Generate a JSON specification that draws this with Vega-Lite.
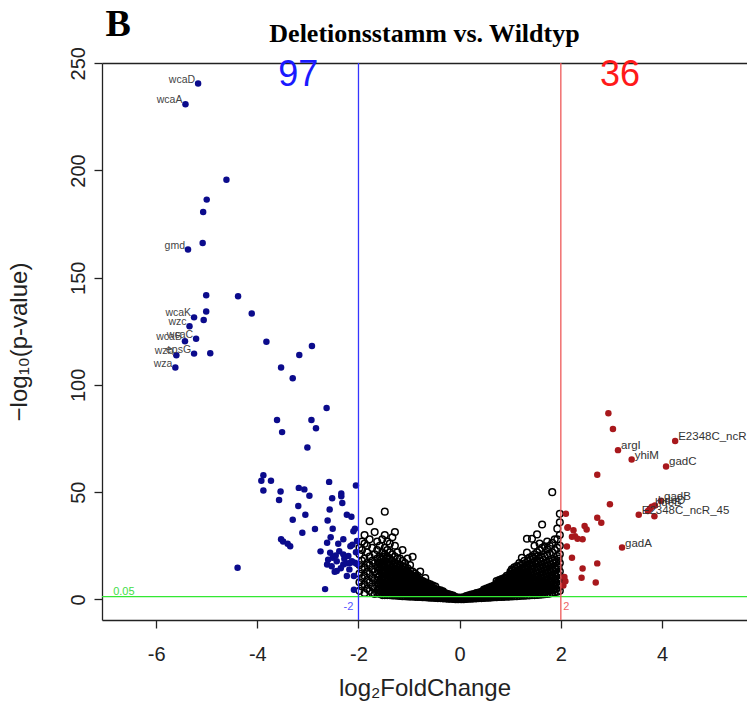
{
"$schema":"https://vega.github.io/schema/vega-lite/v6.json",
"width":645,"height":557,
"autosize":"none",
"padding":{"left":102,"top":63,"right":0,"bottom":89},
"background":"white",
"config":{"view":{"stroke":null},"font":"Liberation Sans","axis":{"domainColor":"#222","tickColor":"#222","labelColor":"#222","titleColor":"#222","grid":false,"domainWidth":1.3,"tickWidth":1.3}},
"title":{"text":"Deletionsstamm vs. Wildtyp","font":"Liberation Serif","fontWeight":"bold","fontSize":26,"color":"black","anchor":"middle","offset":17,"baseline":"alphabetic","dy":79,"frame":"group"},
"resolve":{"axis":{"x":"independent"}},
"datasets":{
"ns":[
{"x":-1.98,"y":4},{"x":-1.98,"y":8},{"x":-1.98,"y":12},{"x":-1.98,"y":16},{"x":-1.98,"y":21},{"x":-1.98,"y":24},
{"x":-1.93,"y":6},{"x":-1.93,"y":10},{"x":-1.93,"y":14},{"x":-1.93,"y":18},{"x":-1.93,"y":23},{"x":-1.93,"y":27},
{"x":-1.88,"y":3},{"x":-1.88,"y":7},{"x":-1.88,"y":11},{"x":-1.88,"y":15},{"x":-1.88,"y":19},{"x":-1.88,"y":26},{"x":-1.88,"y":30},
{"x":-1.83,"y":5},{"x":-1.83,"y":9},{"x":-1.83,"y":13},{"x":-1.83,"y":17},{"x":-1.83,"y":22},{"x":-1.83,"y":25},
{"x":-1.78,"y":4},{"x":-1.78,"y":8},{"x":-1.78,"y":12},{"x":-1.78,"y":16},{"x":-1.78,"y":20},{"x":-1.78,"y":28},{"x":-1.78,"y":36.5},
{"x":-1.73,"y":3},{"x":-1.73,"y":6},{"x":-1.73,"y":10},{"x":-1.73,"y":14},{"x":-1.73,"y":18},{"x":-1.73,"y":24},
{"x":-1.68,"y":2.5},{"x":-1.68,"y":5},{"x":-1.68,"y":9},{"x":-1.68,"y":13},{"x":-1.68,"y":17},{"x":-1.68,"y":21},{"x":-1.68,"y":31.4},
{"x":-1.63,"y":3},{"x":-1.63,"y":6},{"x":-1.63,"y":9},{"x":-1.63,"y":12},{"x":-1.63,"y":15},{"x":-1.63,"y":19},{"x":-1.63,"y":23},{"x":-1.63,"y":27},
{"x":-1.58,"y":2.5},{"x":-1.58,"y":5},{"x":-1.58,"y":8},{"x":-1.58,"y":11},{"x":-1.58,"y":14},{"x":-1.58,"y":17},{"x":-1.58,"y":20},{"x":-1.58,"y":25},
{"x":-1.53,"y":2},{"x":-1.53,"y":4.5},{"x":-1.53,"y":7},{"x":-1.53,"y":10},{"x":-1.53,"y":13},{"x":-1.53,"y":16},{"x":-1.53,"y":19},{"x":-1.53,"y":22},{"x":-1.53,"y":28},
{"x":-1.48,"y":2},{"x":-1.48,"y":4},{"x":-1.48,"y":6.5},{"x":-1.48,"y":9},{"x":-1.48,"y":12},{"x":-1.48,"y":15},{"x":-1.48,"y":18},{"x":-1.48,"y":21},{"x":-1.48,"y":24},{"x":-1.48,"y":30},{"x":-1.48,"y":40.9},
{"x":-1.43,"y":2},{"x":-1.43,"y":4},{"x":-1.43,"y":6},{"x":-1.43,"y":8.5},{"x":-1.43,"y":11},{"x":-1.43,"y":14},{"x":-1.43,"y":17},{"x":-1.43,"y":20},{"x":-1.43,"y":23},{"x":-1.43,"y":27},
{"x":-1.38,"y":2},{"x":-1.38,"y":4},{"x":-1.38,"y":6},{"x":-1.38,"y":8},{"x":-1.38,"y":10.5},{"x":-1.38,"y":13},{"x":-1.38,"y":16},{"x":-1.38,"y":19},{"x":-1.38,"y":22},{"x":-1.38,"y":26},
{"x":-1.33,"y":1.8},{"x":-1.33,"y":3.5},{"x":-1.33,"y":5.5},{"x":-1.33,"y":7.5},{"x":-1.33,"y":10},{"x":-1.33,"y":12.5},{"x":-1.33,"y":15},{"x":-1.33,"y":18},{"x":-1.33,"y":21},{"x":-1.33,"y":29},
{"x":-1.28,"y":1.8},{"x":-1.28,"y":3.5},{"x":-1.28,"y":5.5},{"x":-1.28,"y":7.5},{"x":-1.28,"y":9.5},{"x":-1.28,"y":12},{"x":-1.28,"y":14.5},{"x":-1.28,"y":17},{"x":-1.28,"y":20},{"x":-1.28,"y":25},{"x":-1.28,"y":31.4},
{"x":-1.23,"y":1.7},{"x":-1.23,"y":3.3},{"x":-1.23,"y":5},{"x":-1.23,"y":7},{"x":-1.23,"y":9},{"x":-1.23,"y":11.5},{"x":-1.23,"y":14},{"x":-1.23,"y":16.5},{"x":-1.23,"y":19},{"x":-1.23,"y":22},
{"x":-1.18,"y":1.6},{"x":-1.18,"y":3.2},{"x":-1.18,"y":5},{"x":-1.18,"y":6.8},{"x":-1.18,"y":8.8},{"x":-1.18,"y":11},{"x":-1.18,"y":13.5},{"x":-1.18,"y":16},{"x":-1.18,"y":19},
{"x":-1.13,"y":1.5},{"x":-1.13,"y":3},{"x":-1.13,"y":4.7},{"x":-1.13,"y":6.5},{"x":-1.13,"y":8.5},{"x":-1.13,"y":10.5},{"x":-1.13,"y":13},{"x":-1.13,"y":15.5},{"x":-1.13,"y":18},{"x":-1.13,"y":23},
{"x":-1.08,"y":1.5},{"x":-1.08,"y":3},{"x":-1.08,"y":4.5},{"x":-1.08,"y":6},{"x":-1.08,"y":8},{"x":-1.08,"y":10},{"x":-1.08,"y":12.5},{"x":-1.08,"y":15},{"x":-1.08,"y":17},
{"x":-1.03,"y":1.4},{"x":-1.03,"y":2.8},{"x":-1.03,"y":4.2},{"x":-1.03,"y":5.8},{"x":-1.03,"y":7.5},{"x":-1.03,"y":9.5},{"x":-1.03,"y":12},{"x":-1.03,"y":14.5},{"x":-1.03,"y":19},
{"x":-0.98,"y":1.3},{"x":-0.98,"y":2.7},{"x":-0.98,"y":4},{"x":-0.98,"y":5.5},{"x":-0.98,"y":7.2},{"x":-0.98,"y":9},{"x":-0.98,"y":11},{"x":-0.98,"y":13.5},{"x":-0.98,"y":16},
{"x":-0.93,"y":1.3},{"x":-0.93,"y":2.5},{"x":-0.93,"y":3.8},{"x":-0.93,"y":5.2},{"x":-0.93,"y":6.8},{"x":-0.93,"y":8.5},{"x":-0.93,"y":10.5},{"x":-0.93,"y":13},{"x":-0.93,"y":19.9},
{"x":-0.88,"y":1.2},{"x":-0.88,"y":2.4},{"x":-0.88,"y":3.6},{"x":-0.88,"y":5},{"x":-0.88,"y":6.5},{"x":-0.88,"y":8},{"x":-0.88,"y":10},{"x":-0.88,"y":12},
{"x":-0.83,"y":1.1},{"x":-0.83,"y":2.3},{"x":-0.83,"y":3.5},{"x":-0.83,"y":4.8},{"x":-0.83,"y":6.2},{"x":-0.83,"y":7.7},{"x":-0.83,"y":9.5},{"x":-0.83,"y":11},
{"x":-0.78,"y":1.1},{"x":-0.78,"y":2.2},{"x":-0.78,"y":3.3},{"x":-0.78,"y":4.5},{"x":-0.78,"y":5.8},{"x":-0.78,"y":7.2},{"x":-0.78,"y":9},{"x":-0.78,"y":13},
{"x":-0.73,"y":1},{"x":-0.73,"y":2},{"x":-0.73,"y":3.1},{"x":-0.73,"y":4.2},{"x":-0.73,"y":5.5},{"x":-0.73,"y":6.8},{"x":-0.73,"y":8.5},
{"x":-0.68,"y":1},{"x":-0.68,"y":1.9},{"x":-0.68,"y":2.9},{"x":-0.68,"y":4},{"x":-0.68,"y":5.2},{"x":-0.68,"y":6.5},{"x":-0.68,"y":8},{"x":-0.68,"y":10},
{"x":-0.63,"y":0.9},{"x":-0.63,"y":1.8},{"x":-0.63,"y":2.7},{"x":-0.63,"y":3.7},{"x":-0.63,"y":4.8},{"x":-0.63,"y":6},{"x":-0.63,"y":7.5},
{"x":-0.58,"y":0.8},{"x":-0.58,"y":1.7},{"x":-0.58,"y":2.5},{"x":-0.58,"y":3.4},{"x":-0.58,"y":4.5},{"x":-0.58,"y":5.6},{"x":-0.58,"y":7},
{"x":-0.53,"y":0.8},{"x":-0.53,"y":1.6},{"x":-0.53,"y":2.4},{"x":-0.53,"y":3.2},{"x":-0.53,"y":4.2},{"x":-0.53,"y":5.2},{"x":-0.53,"y":6.5},
{"x":-0.48,"y":0.7},{"x":-0.48,"y":1.5},{"x":-0.48,"y":2.2},{"x":-0.48,"y":3},{"x":-0.48,"y":3.9},{"x":-0.48,"y":4.8},{"x":-0.48,"y":6},
{"x":-0.43,"y":0.6},{"x":-0.43,"y":1.3},{"x":-0.43,"y":2},{"x":-0.43,"y":2.8},{"x":-0.43,"y":3.6},{"x":-0.43,"y":4.5},
{"x":-0.38,"y":0.6},{"x":-0.38,"y":1.2},{"x":-0.38,"y":1.9},{"x":-0.38,"y":2.6},{"x":-0.38,"y":3.3},{"x":-0.38,"y":4.2},
{"x":-0.33,"y":0.5},{"x":-0.33,"y":1.1},{"x":-0.33,"y":1.7},{"x":-0.33,"y":2.3},{"x":-0.33,"y":3},{"x":-0.33,"y":3.8},
{"x":-0.28,"y":0.4},{"x":-0.28,"y":1},{"x":-0.28,"y":1.5},{"x":-0.28,"y":2.1},{"x":-0.28,"y":2.8},
{"x":-0.23,"y":0.3},{"x":-0.23,"y":0.8},{"x":-0.23,"y":1.3},{"x":-0.23,"y":1.9},{"x":-0.23,"y":2.5},
{"x":-0.18,"y":0.3},{"x":-0.18,"y":0.7},{"x":-0.18,"y":1.1},{"x":-0.18,"y":1.6},{"x":-0.18,"y":2.1},
{"x":-0.13,"y":0.2},{"x":-0.13,"y":0.5},{"x":-0.13,"y":0.9},{"x":-0.13,"y":1.3},{"x":-0.13,"y":1.8},
{"x":-0.08,"y":0.1},{"x":-0.08,"y":0.4},{"x":-0.08,"y":0.7},{"x":-0.08,"y":1.1},
{"x":-0.03,"y":0.05},{"x":-0.03,"y":0.3},{"x":-0.03,"y":0.6},{"x":-0.03,"y":0.9},
{"x":0.03,"y":0.05},{"x":0.03,"y":0.3},{"x":0.03,"y":0.6},{"x":0.03,"y":0.9},
{"x":0.08,"y":0.1},{"x":0.08,"y":0.4},{"x":0.08,"y":0.7},{"x":0.08,"y":1.0},
{"x":0.13,"y":0.2},{"x":0.13,"y":0.5},{"x":0.13,"y":0.8},{"x":0.13,"y":1.2},{"x":0.13,"y":1.6},
{"x":0.18,"y":0.3},{"x":0.18,"y":0.6},{"x":0.18,"y":1.0},{"x":0.18,"y":1.4},{"x":0.18,"y":1.9},
{"x":0.23,"y":0.3},{"x":0.23,"y":0.7},{"x":0.23,"y":1.1},{"x":0.23,"y":1.6},{"x":0.23,"y":2.2},
{"x":0.28,"y":0.4},{"x":0.28,"y":0.9},{"x":0.28,"y":1.4},{"x":0.28,"y":1.9},{"x":0.28,"y":2.5},
{"x":0.33,"y":0.5},{"x":0.33,"y":1},{"x":0.33,"y":1.6},{"x":0.33,"y":2.2},{"x":0.33,"y":2.9},
{"x":0.38,"y":0.6},{"x":0.38,"y":1.1},{"x":0.38,"y":1.7},{"x":0.38,"y":2.4},{"x":0.38,"y":3.2},
{"x":0.43,"y":0.6},{"x":0.43,"y":1.2},{"x":0.43,"y":1.9},{"x":0.43,"y":2.6},{"x":0.43,"y":3.5},
{"x":0.48,"y":0.7},{"x":0.48,"y":1.4},{"x":0.48,"y":2.1},{"x":0.48,"y":2.9},{"x":0.48,"y":3.8},{"x":0.48,"y":4.6},
{"x":0.53,"y":0.8},{"x":0.53,"y":1.5},{"x":0.53,"y":2.3},{"x":0.53,"y":3.1},{"x":0.53,"y":4.1},{"x":0.53,"y":5},
{"x":0.58,"y":0.8},{"x":0.58,"y":1.6},{"x":0.58,"y":2.5},{"x":0.58,"y":3.4},{"x":0.58,"y":4.4},{"x":0.58,"y":5.5},
{"x":0.63,"y":0.9},{"x":0.63,"y":1.8},{"x":0.63,"y":2.7},{"x":0.63,"y":3.7},{"x":0.63,"y":4.8},{"x":0.63,"y":6},
{"x":0.68,"y":1},{"x":0.68,"y":1.9},{"x":0.68,"y":2.9},{"x":0.68,"y":4},{"x":0.68,"y":5.2},{"x":0.68,"y":6.5},
{"x":0.73,"y":1},{"x":0.73,"y":2},{"x":0.73,"y":3.1},{"x":0.73,"y":4.3},{"x":0.73,"y":5.6},{"x":0.73,"y":7},{"x":0.73,"y":8.5},
{"x":0.78,"y":1.1},{"x":0.78,"y":2.2},{"x":0.78,"y":3.3},{"x":0.78,"y":4.6},{"x":0.78,"y":6},{"x":0.78,"y":7.5},{"x":0.78,"y":9},
{"x":0.83,"y":1.1},{"x":0.83,"y":2.3},{"x":0.83,"y":3.5},{"x":0.83,"y":4.9},{"x":0.83,"y":6.4},{"x":0.83,"y":8},{"x":0.83,"y":9.5},
{"x":0.88,"y":1.2},{"x":0.88,"y":2.4},{"x":0.88,"y":3.7},{"x":0.88,"y":5.2},{"x":0.88,"y":6.8},{"x":0.88,"y":8.5},{"x":0.88,"y":10},
{"x":0.93,"y":1.3},{"x":0.93,"y":2.6},{"x":0.93,"y":4},{"x":0.93,"y":5.5},{"x":0.93,"y":7.2},{"x":0.93,"y":9},{"x":0.93,"y":11},
{"x":0.98,"y":1.3},{"x":0.98,"y":2.7},{"x":0.98,"y":4.2},{"x":0.98,"y":5.8},{"x":0.98,"y":7.6},{"x":0.98,"y":9.5},{"x":0.98,"y":11.5},
{"x":1.03,"y":1.4},{"x":1.03,"y":2.8},{"x":1.03,"y":4.4},{"x":1.03,"y":6.1},{"x":1.03,"y":8},{"x":1.03,"y":10},{"x":1.03,"y":12},{"x":1.03,"y":14},
{"x":1.08,"y":1.5},{"x":1.08,"y":3},{"x":1.08,"y":4.6},{"x":1.08,"y":6.4},{"x":1.08,"y":8.4},{"x":1.08,"y":10.5},{"x":1.08,"y":12.5},{"x":1.08,"y":15},
{"x":1.13,"y":1.5},{"x":1.13,"y":3.1},{"x":1.13,"y":4.8},{"x":1.13,"y":6.7},{"x":1.13,"y":8.8},{"x":1.13,"y":11},{"x":1.13,"y":13},{"x":1.13,"y":15.5},
{"x":1.18,"y":1.6},{"x":1.18,"y":3.2},{"x":1.18,"y":5},{"x":1.18,"y":7},{"x":1.18,"y":9.2},{"x":1.18,"y":11.5},{"x":1.18,"y":13.8},{"x":1.18,"y":17},
{"x":1.23,"y":1.7},{"x":1.23,"y":3.4},{"x":1.23,"y":5.2},{"x":1.23,"y":7.3},{"x":1.23,"y":9.6},{"x":1.23,"y":12},{"x":1.23,"y":14.5},{"x":1.23,"y":19.4},
{"x":1.28,"y":1.7},{"x":1.28,"y":3.5},{"x":1.28,"y":5.4},{"x":1.28,"y":7.6},{"x":1.28,"y":10},{"x":1.28,"y":12.5},{"x":1.28,"y":15},{"x":1.28,"y":18},
{"x":1.33,"y":1.8},{"x":1.33,"y":3.6},{"x":1.33,"y":5.6},{"x":1.33,"y":7.9},{"x":1.33,"y":10.4},{"x":1.33,"y":13},{"x":1.33,"y":16},{"x":1.33,"y":21.8},{"x":1.33,"y":28.3},
{"x":1.38,"y":1.9},{"x":1.38,"y":3.8},{"x":1.38,"y":5.8},{"x":1.38,"y":8.2},{"x":1.38,"y":10.8},{"x":1.38,"y":13.5},{"x":1.38,"y":16.5},{"x":1.38,"y":19.5},
{"x":1.43,"y":2},{"x":1.43,"y":4},{"x":1.43,"y":6},{"x":1.43,"y":8.5},{"x":1.43,"y":11.2},{"x":1.43,"y":14},{"x":1.43,"y":17},{"x":1.43,"y":20},{"x":1.43,"y":28.3},
{"x":1.48,"y":2},{"x":1.48,"y":4.1},{"x":1.48,"y":6.3},{"x":1.48,"y":8.8},{"x":1.48,"y":11.6},{"x":1.48,"y":14.5},{"x":1.48,"y":17.5},{"x":1.48,"y":21},{"x":1.48,"y":25},
{"x":1.53,"y":2.1},{"x":1.53,"y":4.2},{"x":1.53,"y":6.5},{"x":1.53,"y":9.1},{"x":1.53,"y":12},{"x":1.53,"y":15},{"x":1.53,"y":18},{"x":1.53,"y":22},{"x":1.53,"y":30.3},
{"x":1.58,"y":2.2},{"x":1.58,"y":4.4},{"x":1.58,"y":6.8},{"x":1.58,"y":9.4},{"x":1.58,"y":12.4},{"x":1.58,"y":15.5},{"x":1.58,"y":19},{"x":1.58,"y":23},{"x":1.58,"y":26},
{"x":1.63,"y":2.3},{"x":1.63,"y":4.6},{"x":1.63,"y":7},{"x":1.63,"y":9.7},{"x":1.63,"y":12.8},{"x":1.63,"y":16},{"x":1.63,"y":19.5},{"x":1.63,"y":24},{"x":1.63,"y":34.9},
{"x":1.68,"y":2.4},{"x":1.68,"y":4.8},{"x":1.68,"y":7.3},{"x":1.68,"y":10},{"x":1.68,"y":13.2},{"x":1.68,"y":16.5},{"x":1.68,"y":20},{"x":1.68,"y":24.8},
{"x":1.73,"y":2.5},{"x":1.73,"y":5},{"x":1.73,"y":7.6},{"x":1.73,"y":10.4},{"x":1.73,"y":13.6},{"x":1.73,"y":17},{"x":1.73,"y":21},{"x":1.73,"y":23.3},{"x":1.73,"y":27},
{"x":1.78,"y":2.7},{"x":1.78,"y":5.3},{"x":1.78,"y":8},{"x":1.78,"y":10.8},{"x":1.78,"y":14},{"x":1.78,"y":17.5},{"x":1.78,"y":21.5},{"x":1.78,"y":25},
{"x":1.83,"y":3},{"x":1.83,"y":5.6},{"x":1.83,"y":8.4},{"x":1.83,"y":11.2},{"x":1.83,"y":14.5},{"x":1.83,"y":18},{"x":1.83,"y":22},{"x":1.83,"y":26.4},{"x":1.83,"y":50},
{"x":1.88,"y":3.3},{"x":1.88,"y":6},{"x":1.88,"y":8.8},{"x":1.88,"y":11.6},{"x":1.88,"y":15},{"x":1.88,"y":18.5},{"x":1.88,"y":23},{"x":1.88,"y":28},
{"x":1.93,"y":3.6},{"x":1.93,"y":6.4},{"x":1.93,"y":9.2},{"x":1.93,"y":12},{"x":1.93,"y":15.5},{"x":1.93,"y":20.2},{"x":1.93,"y":24},{"x":1.93,"y":28},{"x":1.93,"y":33},
{"x":1.98,"y":4},{"x":1.98,"y":7},{"x":1.98,"y":10},{"x":1.98,"y":13},{"x":1.98,"y":17},{"x":1.98,"y":21},{"x":1.98,"y":25},{"x":1.98,"y":30},{"x":1.98,"y":36},{"x":1.98,"y":39.9},
{"x":-1.605,"y":4.5},{"x":-1.605,"y":7.5},{"x":-1.605,"y":10.5},{"x":-1.605,"y":13.5},{"x":-1.605,"y":17},
{"x":-1.555,"y":3.7},{"x":-1.555,"y":6.5},{"x":-1.555,"y":9.5},{"x":-1.555,"y":12.5},{"x":-1.555,"y":15.5},{"x":-1.555,"y":18.5},
{"x":-1.505,"y":3},{"x":-1.505,"y":5.5},{"x":-1.505,"y":8},{"x":-1.505,"y":11},{"x":-1.505,"y":14},{"x":-1.505,"y":17},{"x":-1.505,"y":20},
{"x":-1.455,"y":3},{"x":-1.455,"y":5},{"x":-1.455,"y":7.3},{"x":-1.455,"y":10},{"x":-1.455,"y":13},{"x":-1.455,"y":16},{"x":-1.455,"y":19},
{"x":-1.405,"y":3},{"x":-1.405,"y":5},{"x":-1.405,"y":7},{"x":-1.405,"y":9.3},{"x":-1.405,"y":12},{"x":-1.405,"y":14.5},{"x":-1.405,"y":17.5},
{"x":-1.355,"y":2.7},{"x":-1.355,"y":4.5},{"x":-1.355,"y":6.5},{"x":-1.355,"y":8.8},{"x":-1.355,"y":11.3},{"x":-1.355,"y":14},{"x":-1.355,"y":16.5},
{"x":-1.305,"y":2.6},{"x":-1.305,"y":4.5},{"x":-1.305,"y":6.5},{"x":-1.305,"y":8.5},{"x":-1.305,"y":11},{"x":-1.305,"y":13.3},{"x":-1.305,"y":16},
{"x":-1.255,"y":2.5},{"x":-1.255,"y":4.2},{"x":-1.255,"y":6},{"x":-1.255,"y":8.2},{"x":-1.255,"y":10.3},{"x":-1.255,"y":12.8},{"x":-1.255,"y":15.3},
{"x":-1.205,"y":2.4},{"x":-1.205,"y":4.1},{"x":-1.205,"y":5.9},{"x":-1.205,"y":7.9},{"x":-1.205,"y":10},{"x":-1.205,"y":12.3},{"x":-1.205,"y":14.7},
{"x":-1.155,"y":2.3},{"x":-1.155,"y":3.9},{"x":-1.155,"y":5.6},{"x":-1.155,"y":7.5},{"x":-1.155,"y":9.5},{"x":-1.155,"y":11.8},{"x":-1.155,"y":14.2},
{"x":-1.105,"y":2.2},{"x":-1.105,"y":3.8},{"x":-1.105,"y":5.3},{"x":-1.105,"y":7.2},{"x":-1.105,"y":9},{"x":-1.105,"y":11.2},{"x":-1.105,"y":13.7},
{"x":-1.055,"y":2.1},{"x":-1.055,"y":3.5},{"x":-1.055,"y":5},{"x":-1.055,"y":6.8},{"x":-1.055,"y":8.7},{"x":-1.055,"y":10.8},{"x":-1.055,"y":13},
{"x":-1.005,"y":2},{"x":-1.005,"y":3.4},{"x":-1.005,"y":4.8},{"x":-1.005,"y":6.3},{"x":-1.005,"y":8.2},{"x":-1.005,"y":10.2},{"x":-1.005,"y":12.3},
{"x":-0.955,"y":1.9},{"x":-0.955,"y":3.1},{"x":-0.955,"y":4.5},{"x":-0.955,"y":6},{"x":-0.955,"y":7.7},{"x":-0.955,"y":9.5},{"x":-0.955,"y":11.5},
{"x":-0.905,"y":1.8},{"x":-0.905,"y":3},{"x":-0.905,"y":4.3},{"x":-0.905,"y":5.8},{"x":-0.905,"y":7.3},{"x":-0.905,"y":9},{"x":-0.905,"y":11},
{"x":-0.855,"y":1.7},{"x":-0.855,"y":2.9},{"x":-0.855,"y":4.1},{"x":-0.855,"y":5.5},{"x":-0.855,"y":7},{"x":-0.855,"y":8.6},{"x":-0.855,"y":10.3},
{"x":-0.805,"y":1.6},{"x":-0.805,"y":2.8},{"x":-0.805,"y":3.9},{"x":-0.805,"y":5.2},{"x":-0.805,"y":6.6},{"x":-0.805,"y":8.2},
{"x":-0.755,"y":1.5},{"x":-0.755,"y":2.6},{"x":-0.755,"y":3.7},{"x":-0.755,"y":4.9},{"x":-0.755,"y":6.3},{"x":-0.755,"y":7.8},
{"x":-0.705,"y":1.4},{"x":-0.705,"y":2.5},{"x":-0.705,"y":3.5},{"x":-0.705,"y":4.6},{"x":-0.705,"y":6},{"x":-0.705,"y":7.3},
{"x":-0.655,"y":1.4},{"x":-0.655,"y":2.3},{"x":-0.655,"y":3.2},{"x":-0.655,"y":4.3},{"x":-0.655,"y":5.5},{"x":-0.655,"y":6.8},
{"x":-0.605,"y":1.3},{"x":-0.605,"y":2.1},{"x":-0.605,"y":3},{"x":-0.605,"y":4},{"x":-0.605,"y":5.1},{"x":-0.605,"y":6.3},
{"x":-0.555,"y":1.2},{"x":-0.555,"y":2},{"x":-0.555,"y":2.9},{"x":-0.555,"y":3.8},{"x":-0.555,"y":4.8},{"x":-0.555,"y":5.9},
{"x":-0.505,"y":1.1},{"x":-0.505,"y":1.9},{"x":-0.505,"y":2.7},{"x":-0.505,"y":3.6},{"x":-0.505,"y":4.6},
{"x":-0.455,"y":1},{"x":-0.455,"y":1.8},{"x":-0.455,"y":2.5},{"x":-0.455,"y":3.3},{"x":-0.455,"y":4.2},
{"x":-0.405,"y":0.9},{"x":-0.405,"y":1.6},{"x":-0.405,"y":2.3},{"x":-0.405,"y":3},{"x":-0.405,"y":3.8},
{"x":-0.355,"y":0.8},{"x":-0.355,"y":1.4},{"x":-0.355,"y":2},{"x":-0.355,"y":2.7},{"x":-0.355,"y":3.4},
{"x":-0.305,"y":0.7},{"x":-0.305,"y":1.3},{"x":-0.305,"y":1.8},{"x":-0.305,"y":2.5},
{"x":-0.255,"y":0.6},{"x":-0.255,"y":1.1},{"x":-0.255,"y":1.6},{"x":-0.255,"y":2.2},
{"x":-0.205,"y":0.5},{"x":-0.205,"y":0.9},{"x":-0.205,"y":1.4},{"x":-0.205,"y":1.9},
{"x":0.505,"y":1.1},{"x":0.505,"y":1.8},{"x":0.505,"y":2.6},{"x":0.505,"y":3.4},{"x":0.505,"y":4.3},
{"x":0.555,"y":1.2},{"x":0.555,"y":2},{"x":0.555,"y":2.8},{"x":0.555,"y":3.8},{"x":0.555,"y":4.8},
{"x":0.605,"y":1.3},{"x":0.605,"y":2.2},{"x":0.605,"y":3.1},{"x":0.605,"y":4.1},{"x":0.605,"y":5.2},
{"x":0.655,"y":1.4},{"x":0.655,"y":2.4},{"x":0.655,"y":3.4},{"x":0.655,"y":4.5},{"x":0.655,"y":5.7},
{"x":0.705,"y":1.5},{"x":0.705,"y":2.5},{"x":0.705,"y":3.6},{"x":0.705,"y":4.8},{"x":0.705,"y":6.1},
{"x":0.755,"y":1.6},{"x":0.755,"y":2.7},{"x":0.755,"y":3.9},{"x":0.755,"y":5.2},{"x":0.755,"y":6.6},{"x":0.755,"y":8},
{"x":0.805,"y":1.7},{"x":0.805,"y":2.8},{"x":0.805,"y":4.1},{"x":0.805,"y":5.5},{"x":0.805,"y":7},{"x":0.805,"y":8.5},
{"x":0.855,"y":1.8},{"x":0.855,"y":3},{"x":0.855,"y":4.3},{"x":0.855,"y":5.8},{"x":0.855,"y":7.4},{"x":0.855,"y":9},
{"x":0.905,"y":1.9},{"x":0.905,"y":3.2},{"x":0.905,"y":4.6},{"x":0.905,"y":6.2},{"x":0.905,"y":7.9},{"x":0.905,"y":9.8},
{"x":0.955,"y":2},{"x":0.955,"y":3.4},{"x":0.955,"y":4.9},{"x":0.955,"y":6.5},{"x":0.955,"y":8.3},{"x":0.955,"y":10.3},
{"x":1.005,"y":2.1},{"x":1.005,"y":3.6},{"x":1.005,"y":5.2},{"x":1.005,"y":6.9},{"x":1.005,"y":8.8},{"x":1.005,"y":10.8},{"x":1.005,"y":13},
{"x":1.055,"y":2.2},{"x":1.055,"y":3.8},{"x":1.055,"y":5.5},{"x":1.055,"y":7.3},{"x":1.055,"y":9.3},{"x":1.055,"y":11.5},{"x":1.055,"y":13.7},
{"x":1.105,"y":2.3},{"x":1.105,"y":4},{"x":1.105,"y":5.7},{"x":1.105,"y":7.7},{"x":1.105,"y":9.8},{"x":1.105,"y":12},{"x":1.105,"y":14.2},
{"x":1.155,"y":2.4},{"x":1.155,"y":4.1},{"x":1.155,"y":6},{"x":1.155,"y":8},{"x":1.155,"y":10.2},{"x":1.155,"y":12.5},{"x":1.155,"y":15},
{"x":1.205,"y":2.5},{"x":1.205,"y":4.3},{"x":1.205,"y":6.2},{"x":1.205,"y":8.4},{"x":1.205,"y":10.7},{"x":1.205,"y":13.2},{"x":1.205,"y":16},
{"x":1.255,"y":2.6},{"x":1.255,"y":4.5},{"x":1.255,"y":6.5},{"x":1.255,"y":8.8},{"x":1.255,"y":11.2},{"x":1.255,"y":13.8},{"x":1.255,"y":16.5},
{"x":1.305,"y":2.7},{"x":1.305,"y":4.6},{"x":1.305,"y":6.7},{"x":1.305,"y":9.1},{"x":1.305,"y":11.7},{"x":1.305,"y":14.3},{"x":1.305,"y":17},
{"x":1.355,"y":2.8},{"x":1.355,"y":4.8},{"x":1.355,"y":7},{"x":1.355,"y":9.5},{"x":1.355,"y":12.1},{"x":1.355,"y":15},{"x":1.355,"y":18},
{"x":1.405,"y":3},{"x":1.405,"y":5},{"x":1.405,"y":7.3},{"x":1.405,"y":9.8},{"x":1.405,"y":12.6},{"x":1.405,"y":15.5},{"x":1.405,"y":18.5},
{"x":1.455,"y":3.1},{"x":1.455,"y":5.2},{"x":1.455,"y":7.5},{"x":1.455,"y":10.2},{"x":1.455,"y":13},{"x":1.455,"y":16},{"x":1.455,"y":19},
{"x":1.505,"y":3.2},{"x":1.505,"y":5.4},{"x":1.505,"y":7.8},{"x":1.505,"y":10.5},{"x":1.505,"y":13.5},{"x":1.505,"y":16.5},{"x":1.505,"y":20},
{"x":1.555,"y":3.3},{"x":1.555,"y":5.6},{"x":1.555,"y":8.1},{"x":1.555,"y":10.9},{"x":1.555,"y":14},{"x":1.555,"y":17},{"x":1.555,"y":20.5},
{"x":1.605,"y":3.5},{"x":1.605,"y":5.8},{"x":1.605,"y":8.4},{"x":1.605,"y":11.3},{"x":1.605,"y":14.5},{"x":1.605,"y":17.8},
{"x":1.655,"y":3.6},{"x":1.655,"y":6},{"x":1.655,"y":8.7},{"x":1.655,"y":11.6},{"x":1.655,"y":14.8},{"x":1.655,"y":18.3},
{"x":1.705,"y":3.8},{"x":1.705,"y":6.3},{"x":1.705,"y":9},{"x":1.705,"y":12},{"x":1.705,"y":15.3},
{"x":1.755,"y":4},{"x":1.755,"y":6.6},{"x":1.755,"y":9.4},{"x":1.755,"y":12.4},{"x":1.755,"y":15.8},
{"x":1.805,"y":4.3},{"x":1.805,"y":7},{"x":1.805,"y":9.8},{"x":1.805,"y":12.8},{"x":1.805,"y":16.3},
{"x":1.855,"y":4.6},{"x":1.855,"y":7.4},{"x":1.855,"y":10.2},{"x":1.855,"y":13.3},{"x":1.855,"y":16.8},
{"x":1.905,"y":5},{"x":1.905,"y":7.8},{"x":1.905,"y":10.6},{"x":1.905,"y":13.8},{"x":1.905,"y":17.5},
{"x":1.955,"y":5.5},{"x":1.955,"y":8.5},{"x":1.955,"y":11.5},{"x":1.955,"y":15},{"x":1.955,"y":19}
],
"down":[
{"x":-5.17,"y":240.5},{"x":-5.42,"y":230.9},{"x":-4.61,"y":195.7},{"x":-5.0,"y":186.4},{"x":-5.07,"y":180.6},{"x":-5.08,"y":166.2},{"x":-5.37,"y":163.1},{"x":-5.01,"y":141.8},{"x":-4.38,"y":141.3},{"x":-5.01,"y":134.2},{"x":-4.11,"y":133.3},{"x":-5.25,"y":131.5},{"x":-5.06,"y":130.3},{"x":-5.34,"y":127.4},{"x":-3.82,"y":120.1},{"x":-5.21,"y":121.5},{"x":-5.43,"y":120.4},{"x":-5.25,"y":114.6},{"x":-4.93,"y":114.8},{"x":-5.6,"y":113.8},{"x":-5.62,"y":108.1},
{"x":-2.92,"y":118.2},{"x":-3.17,"y":114.0},{"x":-3.53,"y":108.1},{"x":-3.3,"y":103.1},{"x":-2.63,"y":89.2},{"x":-3.61,"y":83.7},{"x":-2.93,"y":83.7},{"x":-3.51,"y":78.0},{"x":-2.84,"y":79.8},{"x":-3.01,"y":70.8},
{"x":-3.88,"y":57.9},{"x":-3.92,"y":55.3},{"x":-3.73,"y":55.3},{"x":-3.88,"y":50.8},{"x":-3.54,"y":50.3},{"x":-3.57,"y":46.3},{"x":-3.18,"y":52.0},{"x":-3.07,"y":51.3},{"x":-2.97,"y":48.3},{"x":-2.58,"y":54.8},{"x":-2.05,"y":53.1},{"x":-2.34,"y":49.4},{"x":-2.34,"y":48.1},{"x":-2.52,"y":47.2},{"x":-2.32,"y":45.0},{"x":-3.19,"y":43.5},{"x":-2.57,"y":41.9},{"x":-3.05,"y":39.5},{"x":-2.23,"y":39.5},{"x":-2.14,"y":38.5},{"x":-3.3,"y":37.1},{"x":-2.61,"y":36.8},{"x":-2.86,"y":32.8},{"x":-2.51,"y":32.9},{"x":-2.07,"y":32.9},{"x":-2.1,"y":31.8},{"x":-3.11,"y":31.1},{"x":-2.55,"y":29.0},{"x":-2.3,"y":28.1},{"x":-2.03,"y":27.2},{"x":-3.53,"y":28.0},{"x":-3.49,"y":27.0},{"x":-3.4,"y":25.9},{"x":-3.35,"y":24.8},{"x":-2.62,"y":26.4},{"x":-2.16,"y":24.8},{"x":-2.75,"y":22.4},{"x":-2.56,"y":21.8},{"x":-2.38,"y":22.5},{"x":-2.3,"y":21.0},{"x":-2.51,"y":19.4},{"x":-2.43,"y":17.8},{"x":-2.2,"y":20.2},{"x":-2.13,"y":17.8},{"x":-2.07,"y":17.1},{"x":-2.62,"y":16.3},{"x":-2.53,"y":15.5},{"x":-2.3,"y":16.3},{"x":-2.24,"y":16.9},{"x":-2.17,"y":17.0},{"x":-2.03,"y":16.5},{"x":-2.47,"y":12.9},{"x":-2.43,"y":13.2},{"x":-2.23,"y":10.9},{"x":-2.09,"y":10.9},{"x":-4.39,"y":14.8},{"x":-2.66,"y":4.8},{"x":-2.09,"y":4.5},{"x":-2.05,"y":22},{"x":-2.12,"y":25.5},{"x":-2.45,"y":20.5},{"x":-2.35,"y":14.5},{"x":-2.28,"y":19.0},{"x":-2.18,"y":14.0},{"x":-2.6,"y":18.5},{"x":-2.4,"y":26.0}
],
"up":[
{"x":2.94,"y":86.8},{"x":3.03,"y":79.4},{"x":4.26,"y":73.9},{"x":3.13,"y":69.6},{"x":3.4,"y":65.2},{"x":4.08,"y":62.0},{"x":2.72,"y":58.1},{"x":2.97,"y":44.4},{"x":3.98,"y":46.0},{"x":3.76,"y":42.3},{"x":3.8,"y":43.2},{"x":3.86,"y":43.8},{"x":3.85,"y":38.8},{"x":3.54,"y":39.5},{"x":3.72,"y":41.2},{"x":2.1,"y":39.9},{"x":2.72,"y":38.1},{"x":2.8,"y":35.7},{"x":2.14,"y":33.7},{"x":2.25,"y":32.3},{"x":2.47,"y":34.2},{"x":2.51,"y":32.6},{"x":2.22,"y":29.2},{"x":2.28,"y":29.5},{"x":2.33,"y":28.3},{"x":2.43,"y":28.0},{"x":3.21,"y":24.2},{"x":2.12,"y":24.7},{"x":2.22,"y":19.4},{"x":2.72,"y":16.8},{"x":2.43,"y":14.4},{"x":2.41,"y":10.1},{"x":2.69,"y":7.9},{"x":2.05,"y":6.5},{"x":2.09,"y":8.5},{"x":2.07,"y":10.5},{"x":2.13,"y":33.4}
],
"labL":[
{"x":-5.17,"y":240.5,"t":"wcaD"},{"x":-5.42,"y":230.9,"t":"wcaA"},{"x":-5.37,"y":163.1,"t":"gmd"},{"x":-5.25,"y":131.5,"t":"wcaK"},{"x":-5.34,"y":127.4,"t":"wzc"},{"x":-5.21,"y":121.5,"t":"wcaC"},{"x":-5.43,"y":120.4,"t":"wcaB"},{"x":-5.25,"y":114.6,"t":"epsG"},{"x":-5.6,"y":113.8,"t":"wzb"},{"x":-5.62,"y":108.1,"t":"wza"}
],
"labR":[
{"x":4.26,"y":73.9,"t":"E2348C_ncR"},{"x":3.13,"y":69.6,"t":"argI"},{"x":3.4,"y":65.2,"t":"yhiM"},{"x":4.08,"y":62.0,"t":"gadC"},{"x":3.98,"y":46.0,"t":"gadB"},{"x":3.86,"y":43.8,"t":"hdeD"},{"x":3.8,"y":43.2,"t":"hdeB"},{"x":3.54,"y":39.5,"t":"E2348C_ncR_45"},{"x":3.21,"y":24.2,"t":"gadA"}
]
},
"layer":[
{"data":{"name":"ns"},"mark":{"type":"point","shape":"circle","filled":false,"color":"black","size":44,"strokeWidth":1.5,"opacity":1},
 "encoding":{
  "x":{"field":"x","type":"quantitative","scale":{"domain":[-7.07,5.68],"nice":false,"zero":false},
   "axis":{"orient":"bottom","values":[-6,-4,-2,0,2,4],"labelExpr":"'' + datum.value","tickSize":8,"labelFontSize":20,"labelPadding":16,"title":"log₂FoldChange","titleFontSize":24,"titleFontWeight":"normal","titlePadding":12,"domain":true}},
  "y":{"field":"y","type":"quantitative","scale":{"domain":[-9.6,250.1],"nice":false,"zero":false},
   "axis":{"values":[0,50,100,150,200,250],"labelAngle":-90,"labelAlign":"center","labelBaseline":"bottom","tickSize":8,"labelFontSize":20,"labelPadding":6,"title":"−log₁₀(p-value)","titleFontSize":24,"titleFontWeight":"normal","titlePadding":37,"domain":true}}}},
{"data":{"name":"down"},"mark":{"type":"circle","color":"#0b0b8c","size":42,"opacity":1},
 "encoding":{"x":{"field":"x","type":"quantitative","axis":null},"y":{"field":"y","type":"quantitative"}}},
{"data":{"name":"up"},"mark":{"type":"circle","color":"#a8181c","size":42,"opacity":1},
 "encoding":{"x":{"field":"x","type":"quantitative","axis":null},"y":{"field":"y","type":"quantitative"}}},
{"data":{"values":[{"y":1.301}]},"mark":{"type":"rule","color":"#33e833","strokeWidth":1.3},
 "encoding":{"y":{"field":"y","type":"quantitative"}}},
{"data":{"values":[{"x":-2}]},"mark":{"type":"rule","color":"#3535ff","strokeWidth":1.3},
 "encoding":{"x":{"field":"x","type":"quantitative","axis":{"orient":"top","domain":true,"ticks":false,"labels":false,"title":null}}}},
{"data":{"values":[{"x":2}]},"mark":{"type":"rule","color":"#ee5a5a","strokeWidth":1.3},
 "encoding":{"x":{"field":"x","type":"quantitative","axis":null}}},
{"data":{"name":"labL"},"mark":{"type":"text","align":"right","baseline":"middle","dx":-3,"dy":-4,"fontSize":10.5,"color":"#444"},
 "encoding":{"x":{"field":"x","type":"quantitative","axis":null},"y":{"field":"y","type":"quantitative"},"text":{"field":"t"}}},
{"data":{"name":"labR"},"mark":{"type":"text","align":"left","baseline":"middle","dx":3,"dy":-4,"fontSize":11.5,"color":"#333"},
 "encoding":{"x":{"field":"x","type":"quantitative","axis":null},"y":{"field":"y","type":"quantitative"},"text":{"field":"t"}}},
{"data":{"values":[{"x":-3.19,"y":244.5,"t":"97"}]},"mark":{"type":"text","align":"center","baseline":"middle","fontSize":36,"color":"#1a1aff"},
 "encoding":{"x":{"field":"x","type":"quantitative","axis":null},"y":{"field":"y","type":"quantitative"},"text":{"field":"t"}}},
{"data":{"values":[{"x":3.17,"y":244.5,"t":"36"}]},"mark":{"type":"text","align":"center","baseline":"middle","fontSize":36,"color":"#ff1a1a"},
 "encoding":{"x":{"field":"x","type":"quantitative","axis":null},"y":{"field":"y","type":"quantitative"},"text":{"field":"t"}}},
{"data":{"values":[{"x":-6.85,"y":3.45,"t":"0.05"}]},"mark":{"type":"text","align":"left","baseline":"middle","fontSize":11,"color":"#44dd44"},
 "encoding":{"x":{"field":"x","type":"quantitative","axis":null},"y":{"field":"y","type":"quantitative"},"text":{"field":"t"}}},
{"data":{"values":[{"x":-2.2,"y":-3.5,"t":"-2"}]},"mark":{"type":"text","align":"center","baseline":"middle","fontSize":11,"color":"#5555ff"},
 "encoding":{"x":{"field":"x","type":"quantitative","axis":null},"y":{"field":"y","type":"quantitative"},"text":{"field":"t"}}},
{"data":{"values":[{"x":2.11,"y":-3.5,"t":"2"}]},"mark":{"type":"text","align":"center","baseline":"middle","fontSize":11,"color":"#ee6666"},
 "encoding":{"x":{"field":"x","type":"quantitative","axis":null},"y":{"field":"y","type":"quantitative"},"text":{"field":"t"}}},
{"data":{"values":[{"x":-6.75,"y":267.8,"t":"B"}]},"mark":{"type":"text","align":"center","baseline":"middle","fontSize":38,"font":"Liberation Serif","fontWeight":"bold","color":"black"},
 "encoding":{"x":{"field":"x","type":"quantitative","axis":null},"y":{"field":"y","type":"quantitative"},"text":{"field":"t"}}}
]
}
